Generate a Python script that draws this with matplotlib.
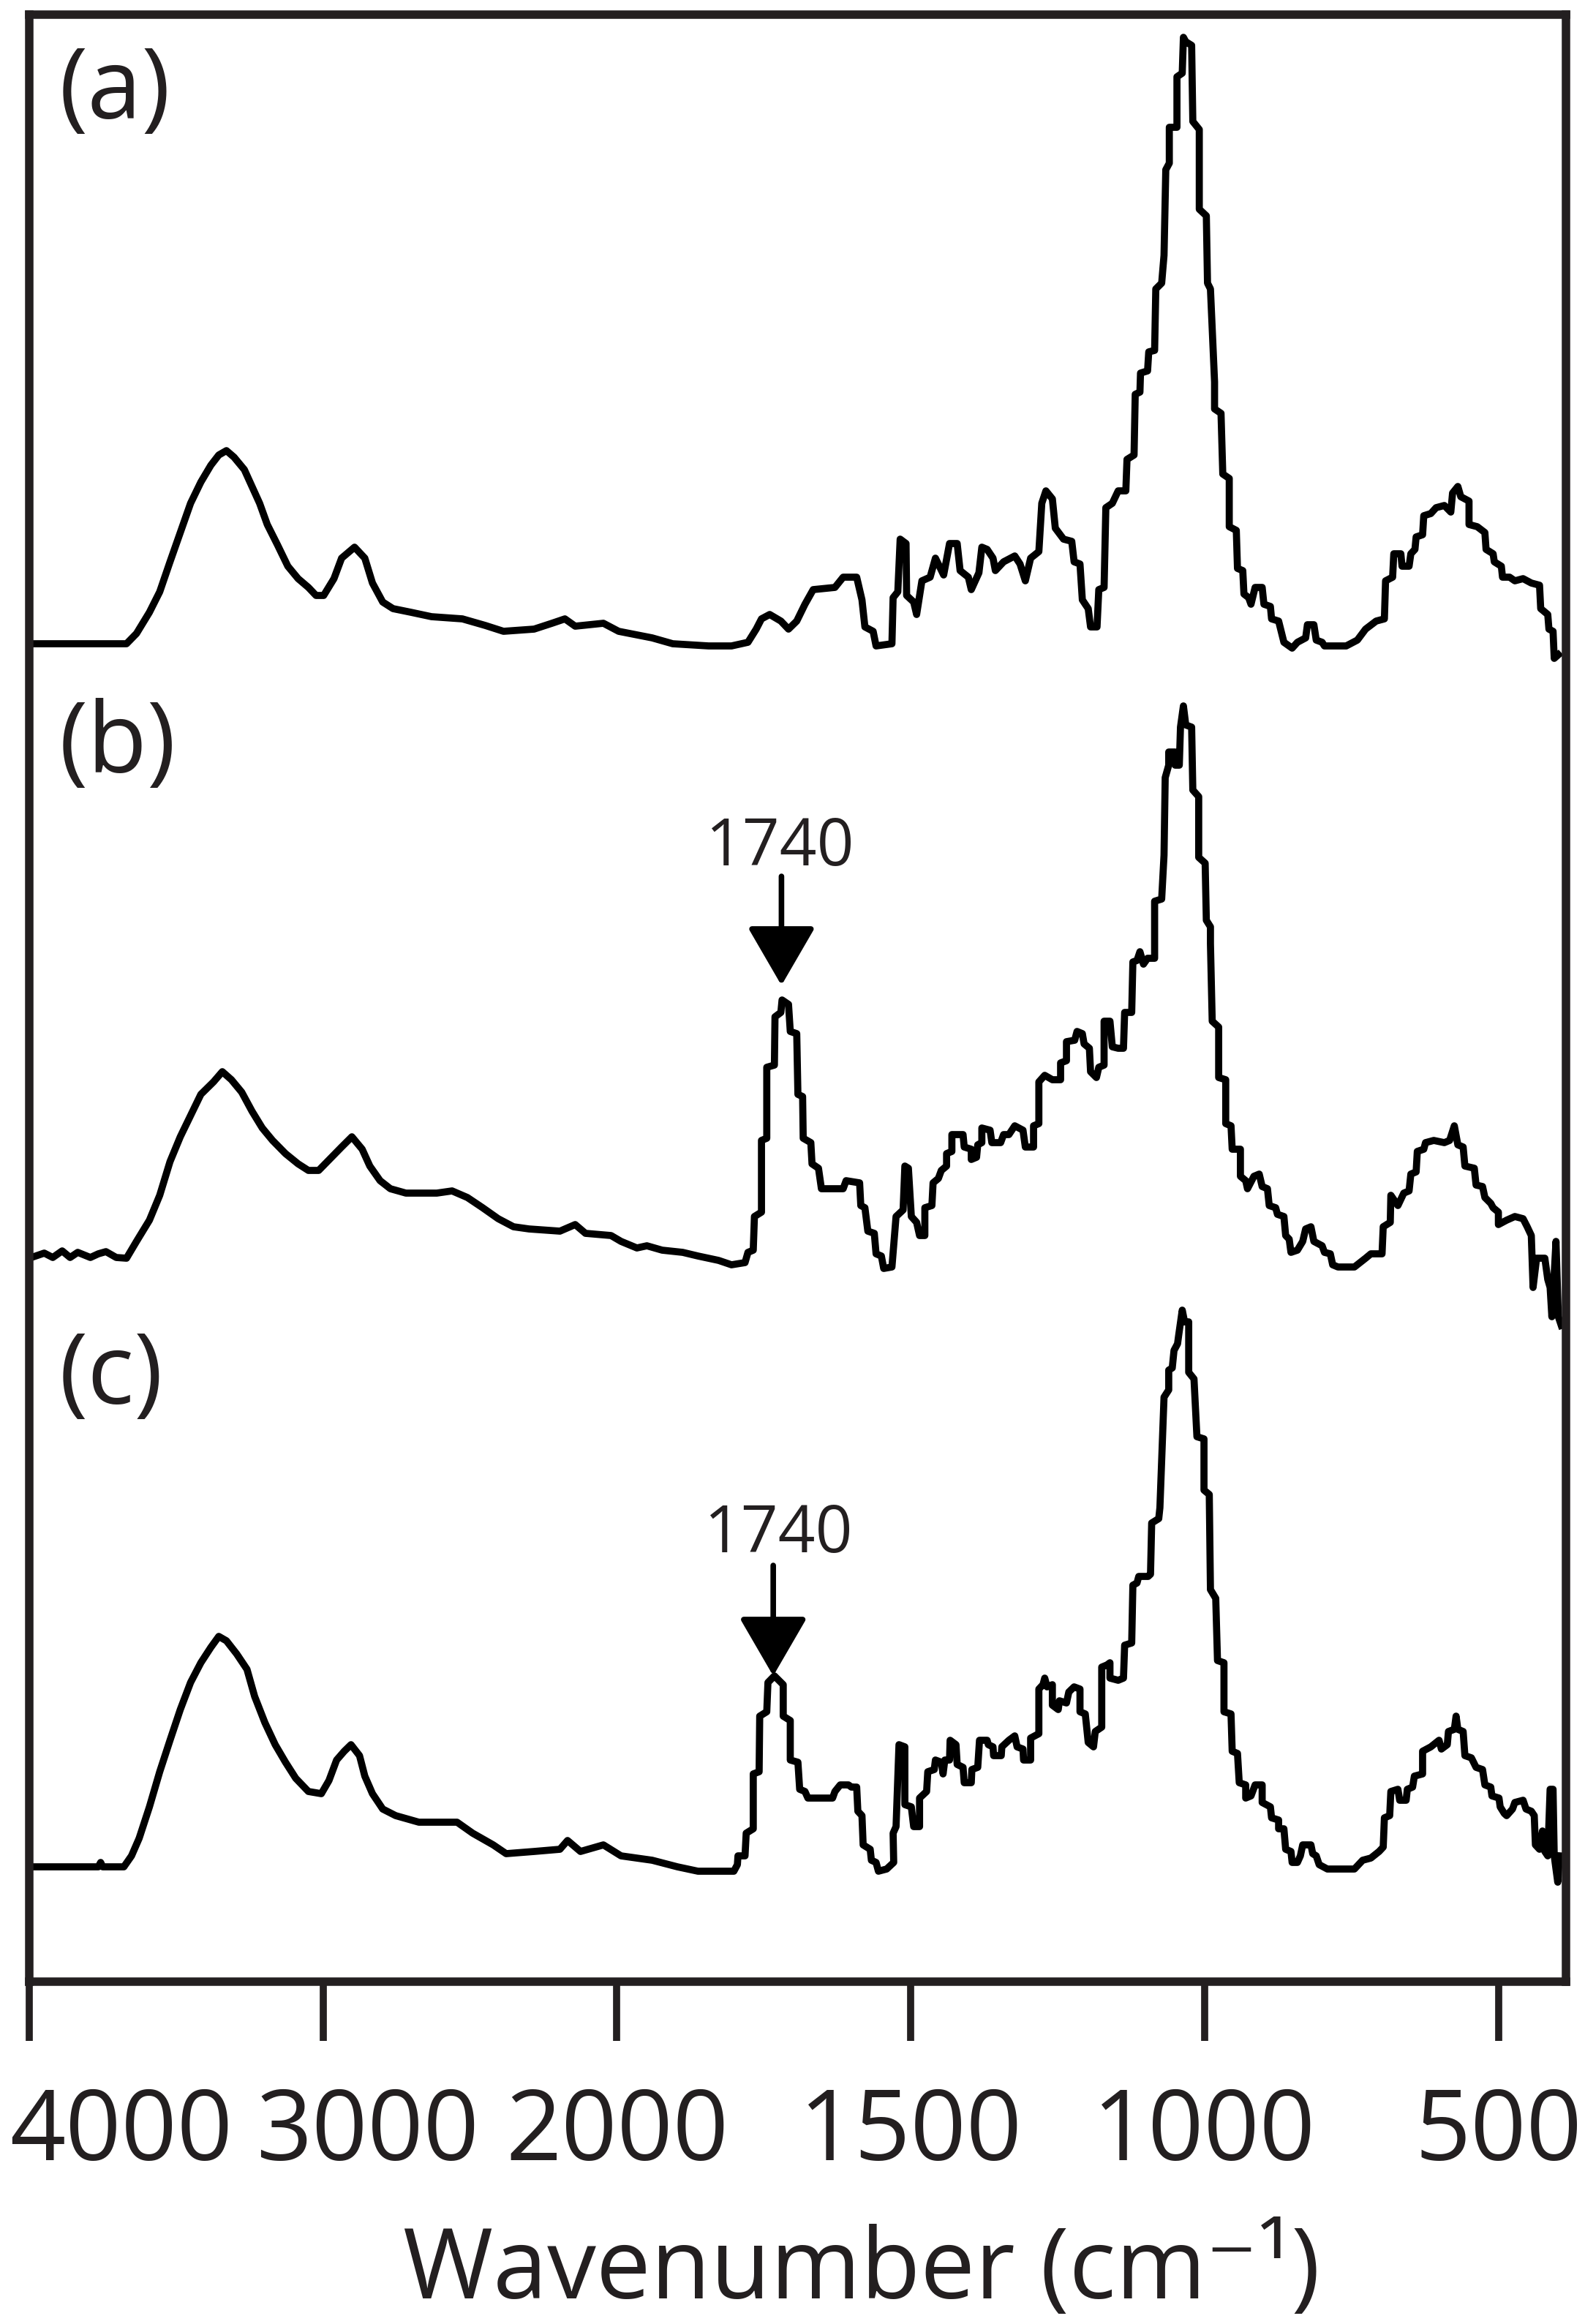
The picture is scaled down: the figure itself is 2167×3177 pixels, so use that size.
import numpy as np
import matplotlib
matplotlib.use("Agg")
import matplotlib.pyplot as plt
from matplotlib.transforms import ScaledTranslation

# FTIR spectra (a), (b), (c): wavenumber (cm-1) and offset absorbance (a.u.)
wn_a = [4000, 3669, 3635, 3591, 3556, 3521, 3486, 3451, 3416, 3382, 3355, 3329, 3303, 3268, 3242,
        3216, 3190, 3155, 3120, 3085, 3050, 3024, 2998, 2963, 2937, 2893, 2858, 2832, 2797, 2762,
        2701, 2631, 2526, 2448, 2386, 2282, 2221, 2177, 2142, 2046, 1997, 1940, 1905, 1844, 1805,
        1777, 1763, 1754, 1740, 1721, 1708, 1694, 1680, 1666, 1629, 1615, 1592, 1583, 1578, 1564,
        1559, 1532, 1530, 1522, 1518, 1508, 1507, 1495, 1490, 1481, 1467, 1458, 1444, 1434, 1421,
        1416, 1402, 1397, 1384, 1379, 1370, 1360, 1356, 1342, 1323, 1314, 1305, 1296, 1282, 1277,
        1270, 1259, 1254, 1240, 1226, 1222, 1212, 1208, 1198, 1194, 1183, 1180, 1171, 1168, 1157,
        1147, 1134, 1132, 1120, 1118, 1110, 1109, 1097, 1095, 1085, 1083, 1073, 1069, 1066, 1060,
        1060, 1047, 1047, 1038, 1036, 1032, 1022, 1020, 1009, 1009, 997, 995, 990, 983, 983,
        972, 969, 958, 958, 946, 944, 935, 933, 925, 921, 914, 902, 899, 888, 886,
        874, 865, 851, 842, 828, 825, 814, 810, 800, 796, 759, 740, 726, 708, 694,
        692, 680, 678, 666, 664, 652, 649, 642, 640, 629, 627, 615, 606, 592, 581,
        578, 569, 564, 550, 550, 536, 523, 521, 509, 507, 495, 493, 481, 472, 458,
        444, 430, 428, 416, 414, 407, 405, 398]
abs_a = [1.829, 1.829, 1.843, 1.872, 1.900, 1.941, 1.981, 2.021, 2.050, 2.073, 2.087, 2.093, 2.084, 2.067, 2.044,
         2.021, 1.992, 1.964, 1.935, 1.918, 1.906, 1.895, 1.895, 1.918, 1.946, 1.961, 1.946, 1.912, 1.886, 1.877,
         1.872, 1.866, 1.863, 1.854, 1.846, 1.849, 1.857, 1.863, 1.853, 1.857, 1.846, 1.837, 1.829, 1.826, 1.826,
         1.831, 1.849, 1.863, 1.869, 1.860, 1.849, 1.860, 1.883, 1.903, 1.906, 1.920, 1.920, 1.889, 1.852, 1.846,
         1.826, 1.829, 1.892, 1.900, 1.972, 1.966, 1.895, 1.886, 1.869, 1.915, 1.920, 1.946, 1.923, 1.966, 1.966,
         1.929, 1.920, 1.903, 1.926, 1.961, 1.958, 1.946, 1.929, 1.941, 1.949, 1.938, 1.915, 1.946, 1.955, 2.021,
         2.038, 2.027, 1.987, 1.972, 1.969, 1.941, 1.938, 1.889, 1.877, 1.852, 1.852, 1.903, 1.906, 2.015, 2.021,
         2.038, 2.038, 2.081, 2.087, 2.170, 2.173, 2.199, 2.202, 2.228, 2.230, 2.314, 2.322, 2.360, 2.477, 2.486,
         2.535, 2.535, 2.604, 2.609, 2.658, 2.652, 2.647, 2.543, 2.532, 2.423, 2.414, 2.322, 2.314, 2.187, 2.150,
         2.144, 2.061, 2.055, 1.989, 1.984, 1.932, 1.929, 1.897, 1.892, 1.883, 1.906, 1.906, 1.883, 1.880, 1.863,
         1.860, 1.831, 1.823, 1.831, 1.837, 1.855, 1.855, 1.834, 1.831, 1.826, 1.826, 1.834, 1.849, 1.860, 1.863,
         1.915, 1.920, 1.952, 1.952, 1.935, 1.935, 1.952, 1.958, 1.975, 1.978, 2.004, 2.007, 2.015, 2.018, 2.009,
         2.035, 2.044, 2.030, 2.024, 1.992, 1.989, 1.981, 1.958, 1.952, 1.941, 1.935, 1.920, 1.920, 1.915, 1.918,
         1.912, 1.909, 1.877, 1.869, 1.849, 1.846, 1.809, 1.814]

wn_b = [4000, 3949, 3920, 3888, 3861, 3835, 3792, 3765, 3739, 3704, 3669, 3635, 3591, 3556, 3521,
        3486, 3451, 3416, 3373, 3343, 3312, 3277, 3242, 3207, 3172, 3128, 3085, 3050, 3015, 2971,
        2937, 2902, 2867, 2841, 2806, 2771, 2718, 2613, 2561, 2509, 2457, 2404, 2352, 2299, 2194,
        2142, 2107, 2020, 1993, 1966, 1949, 1923, 1888, 1862, 1827, 1805, 1782, 1777, 1768, 1766,
        1754, 1754, 1745, 1745, 1732, 1731, 1721, 1719, 1708, 1705, 1694, 1692, 1684, 1683, 1670,
        1668, 1657, 1652, 1615, 1610, 1587, 1585, 1578, 1573, 1562, 1559, 1550, 1546, 1532, 1525,
        1513, 1510, 1504, 1499, 1490, 1485, 1476, 1476, 1464, 1462, 1453, 1448, 1439, 1439, 1430,
        1430, 1411, 1409, 1397, 1397, 1388, 1386, 1379, 1379, 1365, 1362, 1347, 1342, 1333, 1323,
        1309, 1305, 1291, 1291, 1282, 1282, 1272, 1259, 1245, 1245, 1235, 1235, 1221, 1217, 1208,
        1205, 1196, 1194, 1184, 1180, 1171, 1171, 1161, 1157, 1147, 1138, 1136, 1124, 1122, 1115,
        1110, 1104, 1097, 1085, 1085, 1073, 1069, 1067, 1061, 1061, 1050, 1050, 1043, 1041, 1036,
        1032, 1022, 1020, 1010, 1010, 999, 997, 990, 990, 987, 976, 976, 964, 964, 955,
        953, 939, 939, 930, 927, 916, 907, 902, 893, 890, 879, 876, 865, 862, 856,
        853, 842, 833, 828, 819, 814, 800, 796, 786, 782, 773, 745, 726, 717, 698,
        696, 684, 683, 671, 661, 652, 649, 640, 638, 627, 624, 610, 592, 583, 575,
        569, 560, 557, 541, 538, 527, 523, 513, 509, 500, 500, 486, 472, 458, 451,
        444, 441, 435, 421, 416, 412, 409, 402, 398, 393]
abs_b = [0.989, 0.996, 0.990, 0.999, 0.990, 0.997, 0.990, 0.995, 0.998, 0.990, 0.989, 1.012, 1.041, 1.075, 1.121,
         1.155, 1.184, 1.213, 1.230, 1.244, 1.233, 1.216, 1.190, 1.167, 1.150, 1.132, 1.118, 1.109, 1.109, 1.127,
         1.141, 1.155, 1.138, 1.115, 1.095, 1.084, 1.078, 1.078, 1.081, 1.072, 1.058, 1.043, 1.032, 1.029, 1.026,
         1.035, 1.023, 1.020, 1.012, 1.003, 1.006, 1.000, 0.997, 0.992, 0.986, 0.980, 0.983, 0.997, 1.000, 1.046,
         1.052, 1.150, 1.153, 1.250, 1.253, 1.319, 1.325, 1.342, 1.336, 1.299, 1.296, 1.213, 1.210, 1.153, 1.147,
         1.118, 1.112, 1.084, 1.084, 1.095, 1.092, 1.061, 1.058, 1.026, 1.023, 0.995, 0.992, 0.975, 0.977, 1.046,
         1.055, 1.115, 1.112, 1.046, 1.038, 1.020, 1.020, 1.058, 1.061, 1.092, 1.098, 1.109, 1.115, 1.132, 1.135,
         1.158, 1.158, 1.141, 1.138, 1.124, 1.127, 1.144, 1.147, 1.167, 1.164, 1.147, 1.147, 1.158, 1.158, 1.170,
         1.164, 1.141, 1.141, 1.170, 1.173, 1.230, 1.239, 1.233, 1.233, 1.256, 1.259, 1.285, 1.287, 1.299, 1.296,
         1.282, 1.276, 1.244, 1.236, 1.250, 1.253, 1.313, 1.313, 1.278, 1.276, 1.276, 1.325, 1.325, 1.394, 1.396,
         1.408, 1.391, 1.399, 1.399, 1.477, 1.480, 1.540, 1.646, 1.663, 1.681, 1.681, 1.663, 1.663, 1.715, 1.744,
         1.718, 1.715, 1.629, 1.620, 1.537, 1.529, 1.451, 1.442, 1.419, 1.313, 1.305, 1.236, 1.233, 1.173, 1.170,
         1.138, 1.138, 1.101, 1.095, 1.084, 1.101, 1.104, 1.087, 1.084, 1.061, 1.058, 1.049, 1.046, 1.020, 1.015,
         0.997, 1.000, 1.012, 1.029, 1.032, 1.012, 1.006, 0.997, 0.995, 0.980, 0.977, 0.977, 0.989, 0.995, 0.995,
         1.032, 1.038, 1.075, 1.061, 1.078, 1.081, 1.104, 1.107, 1.135, 1.138, 1.147, 1.150, 1.147, 1.150, 1.170,
         1.144, 1.141, 1.115, 1.112, 1.089, 1.087, 1.072, 1.064, 1.058, 1.052, 1.035, 1.041, 1.046, 1.043, 1.032,
         1.020, 0.949, 0.989, 0.989, 0.960, 0.949, 0.909, 1.012, 0.909, 0.897]

wn_c = [4000, 3765, 3757, 3750, 3678, 3652, 3626, 3591, 3556, 3521, 3486, 3451, 3416, 3382, 3355,
        3329, 3294, 3259, 3233, 3198, 3163, 3128, 3093, 3050, 3006, 2980, 2954, 2928, 2905, 2876,
        2858, 2832, 2797, 2753, 2701, 2674, 2544, 2491, 2421, 2377, 2282, 2194, 2168, 2124, 2046,
        1993, 1940, 1897, 1862, 1801, 1795, 1794, 1782, 1780, 1768, 1768, 1758, 1757, 1745, 1743,
        1732, 1717, 1717, 1705, 1705, 1692, 1689, 1680, 1675, 1633, 1629, 1620, 1606, 1601, 1592,
        1590, 1583, 1581, 1569, 1567, 1559, 1555, 1541, 1529, 1530, 1525, 1520, 1510, 1510, 1499,
        1495, 1485, 1485, 1473, 1471, 1460, 1458, 1448, 1445, 1442, 1434, 1433, 1423, 1421, 1411,
        1409, 1397, 1396, 1386, 1383, 1370, 1368, 1360, 1359, 1346, 1345, 1333, 1323, 1319, 1309,
        1308, 1296, 1296, 1282, 1282, 1275, 1272, 1268, 1259, 1259, 1249, 1247, 1235, 1231, 1222,
        1212, 1212, 1203, 1198, 1189, 1186, 1175, 1175, 1166, 1161, 1161, 1147, 1138, 1136, 1124,
        1122, 1115, 1112, 1096, 1092, 1090, 1078, 1076, 1069, 1061, 1061, 1055, 1052, 1046, 1044,
        1038, 1034, 1027, 1027, 1018, 1013, 1001, 1001, 992, 990, 981, 978, 967, 967, 955,
        953, 944, 941, 930, 930, 921, 914, 902, 902, 888, 886, 874, 874, 865, 862,
        853, 851, 842, 837, 833, 819, 816, 810, 805, 791, 745, 731, 717, 703, 696,
        694, 685, 683, 671, 668, 657, 655, 646, 643, 629, 629, 615, 601, 597, 587,
        585, 575, 572, 569, 560, 557, 546, 538, 527, 523, 513, 511, 499, 497, 490,
        486, 476, 472, 458, 453, 444, 439, 437, 430, 425, 421, 416, 412, 407, 405,
        399, 396]
abs_c = [0.157, 0.157, 0.163, 0.157, 0.157, 0.172, 0.196, 0.239, 0.287, 0.330, 0.372, 0.409, 0.436, 0.457, 0.472,
         0.466, 0.448, 0.427, 0.390, 0.354, 0.324, 0.300, 0.278, 0.260, 0.257, 0.275, 0.303, 0.315, 0.324, 0.309,
         0.281, 0.257, 0.236, 0.227, 0.221, 0.218, 0.218, 0.203, 0.187, 0.175, 0.178, 0.181, 0.193, 0.178, 0.187,
         0.172, 0.166, 0.157, 0.151, 0.151, 0.160, 0.172, 0.172, 0.203, 0.209, 0.284, 0.287, 0.363, 0.369, 0.409,
         0.418, 0.406, 0.363, 0.357, 0.303, 0.300, 0.263, 0.260, 0.251, 0.251, 0.260, 0.269, 0.269, 0.266, 0.266,
         0.233, 0.227, 0.187, 0.181, 0.166, 0.163, 0.151, 0.154, 0.163, 0.203, 0.212, 0.324, 0.321, 0.242, 0.239,
         0.212, 0.212, 0.251, 0.260, 0.287, 0.290, 0.303, 0.300, 0.284, 0.303, 0.303, 0.330, 0.324, 0.297, 0.293,
         0.272, 0.272, 0.290, 0.293, 0.330, 0.330, 0.324, 0.321, 0.309, 0.309, 0.321, 0.330, 0.336, 0.321, 0.318,
         0.303, 0.303, 0.333, 0.339, 0.400, 0.406, 0.415, 0.403, 0.406, 0.378, 0.372, 0.384, 0.381, 0.396, 0.403,
         0.400, 0.369, 0.366, 0.327, 0.321, 0.342, 0.348, 0.430, 0.433, 0.436, 0.415, 0.412, 0.415, 0.460, 0.463,
         0.542, 0.545, 0.554, 0.554, 0.557, 0.627, 0.633, 0.648, 0.799, 0.809, 0.836, 0.839, 0.863, 0.872, 0.884,
         0.918, 0.902, 0.902, 0.833, 0.824, 0.745, 0.742, 0.672, 0.666, 0.536, 0.524, 0.439, 0.436, 0.369, 0.366,
         0.315, 0.312, 0.272, 0.269, 0.251, 0.254, 0.269, 0.269, 0.245, 0.239, 0.224, 0.221, 0.209, 0.209, 0.181,
         0.178, 0.163, 0.163, 0.172, 0.187, 0.187, 0.175, 0.172, 0.160, 0.154, 0.154, 0.166, 0.169, 0.178, 0.184,
         0.224, 0.227, 0.260, 0.263, 0.248, 0.248, 0.263, 0.266, 0.281, 0.284, 0.315, 0.321, 0.330, 0.318, 0.324,
         0.342, 0.345, 0.363, 0.345, 0.342, 0.309, 0.306, 0.293, 0.290, 0.269, 0.266, 0.254, 0.251, 0.239, 0.230,
         0.227, 0.236, 0.245, 0.248, 0.236, 0.233, 0.227, 0.187, 0.181, 0.206, 0.178, 0.172, 0.263, 0.263, 0.172,
         0.136, 0.172]

panel_labels = ["(a)", "(b)", "(c)"]
label_y = [2.582, 1.688, 0.825]
tick_values = [4000, 3000, 2000, 1500, 1000, 500]
tick_labels = ["4000", "3000", "2000", "1500", "1000", "500"]
# 1740 band arrows
arrow_x = [1720, 1734]
arrow_tip = [1.362, 0.418]
arrow_tail = [1.511, 0.569]
arrow_text_x = [1722, 1725]
arrow_text_y = [1.526, 0.587]

ink = "#231f20"
fam = ["Open Sans", "DejaVu Sans"]


def fwd(w):
    w = np.asarray(w, dtype=float)
    return np.where(w > 2000, 2000 + (w - 2000) / 2.0, w)


def inv(p):
    p = np.asarray(p, dtype=float)
    return np.where(p > 2000, 2000 + (p - 2000) * 2.0, p)


fig = plt.figure(figsize=(21.67, 31.77), dpi=100)
ax = fig.add_axes([0.01846, 0.14730, 0.96954, 0.84640])
ax.set_xscale("function", functions=(fwd, inv))

for wn, ab in [(wn_a, abs_a), (wn_b, abs_b), (wn_c, abs_c)]:
    ax.plot(wn, ab, color="black", lw=7)

ax.set_xlim(4000, 385)
ax.set_ylim(0, 2.689)
ax.set_yticks([])
ax.set_xticks(tick_values)
ax.set_xticklabels(tick_labels, fontsize=96, family=fam, color=ink)
ax.xaxis.set_minor_locator(plt.NullLocator())
ax.tick_params(axis="x", direction="out", length=58, width=7, pad=44, color=ink)
for s in ax.spines.values():
    s.set_linewidth(8.3)
    s.set_color(ink)

# the two crowded left labels sit to the right of their ticks in the original
shifts = [1.26, 0.61, 0, 0, 0, 0]
for lab, dx in zip(ax.get_xticklabels(), shifts):
    lab.set_transform(lab.get_transform() + ScaledTranslation(dx, 0, fig.dpi_scale_trans))

for txt, y in zip(panel_labels, label_y):
    ax.text(0.0195, y, txt, transform=ax.get_yaxis_transform(), ha="left", va="center",
            fontsize=96, family=fam, color=ink)

for x, tip, tail, tx, ty in zip(arrow_x, arrow_tip, arrow_tail, arrow_text_x, arrow_text_y):
    ax.annotate("", xy=(x, tip), xytext=(x, tail),
                arrowprops=dict(arrowstyle="-|>,head_length=1.0,head_width=0.58",
                                mutation_scale=50, lw=5.5, color="black",
                                shrinkA=0, shrinkB=0))
    ax.text(tx, ty, "1740", ha="center", va="baseline", fontsize=64, family=fam, color=ink)

fig.text(0.5436, 0.011, "Wavenumber (cm\u207b\u00b9)", ha="center", va="baseline",
         fontsize=96, family=fam, color=ink)

fig.savefig("out.png", dpi=100)
